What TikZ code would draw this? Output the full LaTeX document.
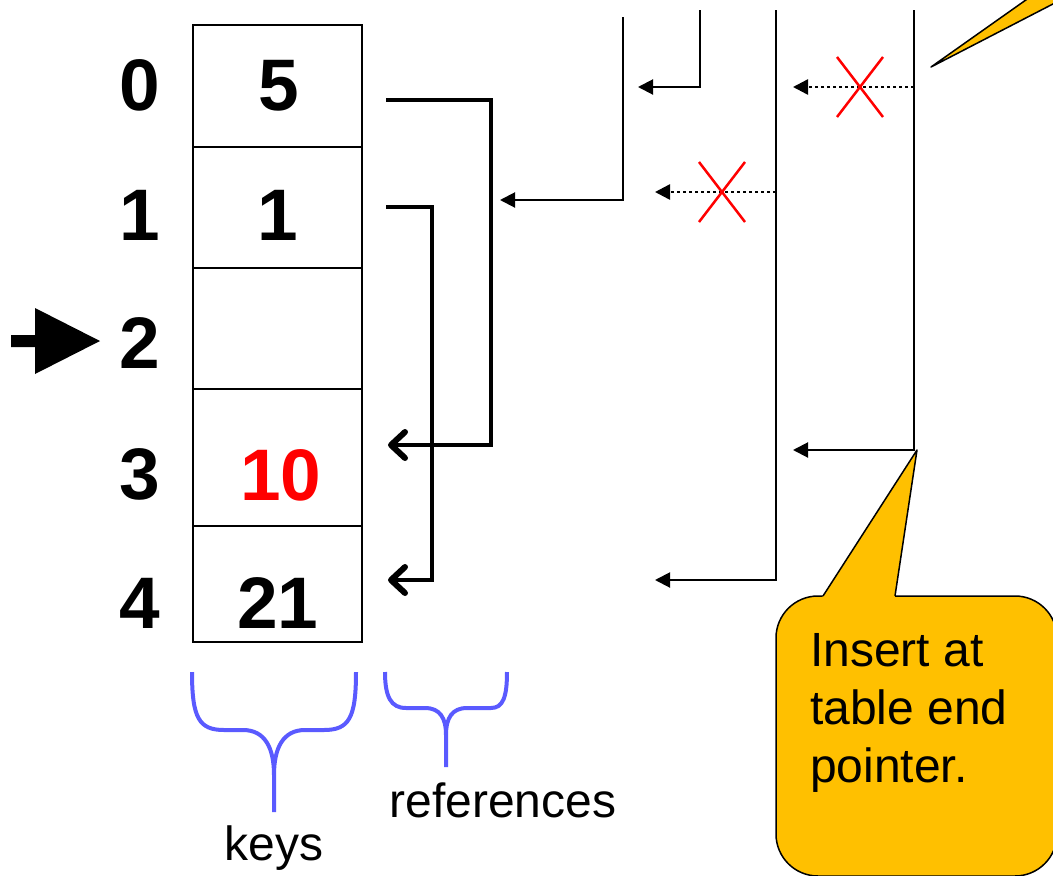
\documentclass[tikz,border=0pt]{standalone}
\usepackage{fontspec}
\setmainfont{Liberation Sans}
\usetikzlibrary{arrows.meta}
\definecolor{calloutfill}{RGB}{255,192,0}
\definecolor{bracecol}{RGB}{90,90,255}
\definecolor{keyred}{RGB}{255,0,0}

\begin{document}
\begin{tikzpicture}[x=1pt,y=-1pt,
  cell/.style={draw, line width=1.6pt, minimum width=169pt, inner sep=0pt,
               anchor=north west, outer sep=0pt},
  bignum/.style={font=\fontsize{73}{80}\selectfont\bfseries, inner sep=0pt, anchor=base},
  label/.style={font=\fontsize{48}{58}\selectfont, inner sep=0pt, anchor=base},
  refarrow/.style={line width=4.5pt, line join=miter,
                   -{Straight Barb[length=14pt,width=26pt,round,line width=6pt]}},
  ptrarrow/.style={line width=2pt, -{Triangle[length=15pt,width=15pt]}},
  oldptr/.style={line width=2.5pt, dash pattern=on 3pt off 3pt, -{Triangle[length=15pt,width=15pt]}},
  cross/.style={draw=keyred, line width=2.5pt},
  brace/.style={draw=bracecol, line width=4pt},
  callout/.style={fill=calloutfill, draw=black, line width=1.5pt, line join=round}]

\path[use as bounding box] (0,0) rectangle (1053,876);

% hash table cells
\node[cell, minimum height=122pt] (k0) at (193,25) {};
\node[cell, minimum height=121pt] (k1) at (193,147) {};
\node[cell, minimum height=121pt] (k2) at (193,268) {};
\node[cell, minimum height=137pt] (k3) at (193,389) {};
\node[cell, minimum height=116pt] (k4) at (193,526) {};

% slot indices
\node[bignum] (i0) at (140,110) {0};
\node[bignum] (i1) at (140,240) {1};
\node[bignum] (i2) at (140,368) {2};
\node[bignum] (i3) at (140,499) {3};
\node[bignum] (i4) at (140,628) {4};

% stored keys
\node[bignum] (v0) at (279,110) {5};
\node[bignum] (v1) at (278,240) {1};
\node[bignum, text=keyred] (v3) at (281,500) {10};
\node[bignum] (v4) at (278,628) {21};

% current slot marker
\fill (11,335) -- (35,335) -- (35,308) -- (100,341) -- (35,374) -- (35,347) -- (11,347) -- cycle;

% reference chains between slots
\coordinate (r0) at (386,100);
\coordinate (r1) at (386,207);
\coordinate (r3) at (388,445);
\coordinate (r4) at (388,580);
\draw[refarrow] (r0) -- (491,100) |- (r3);
\draw[refarrow] (r1) -- (432,207) |- (r4);

% table end pointer history
\coordinate (e1) at (623,17);   \coordinate (e1t) at (500,200);
\coordinate (e2) at (700,10);   \coordinate (e2t) at (638,87);
\coordinate (e3) at (776,10);   \coordinate (e3t) at (655,580);
\coordinate (e4) at (914,10);   \coordinate (e4t) at (793,450);
\draw[ptrarrow] (e1) |- (e1t);
\draw[ptrarrow] (e2) |- (e2t);
\draw[ptrarrow] (e3) |- (e3t);
\draw[ptrarrow] (e4) |- (e4t);

% discarded pointers
\coordinate (d1) at (776,192);  \coordinate (d1t) at (655,192);
\coordinate (d2) at (914,87);   \coordinate (d2t) at (793,87);
\draw[oldptr] (d1) -- (d1t);
\draw[oldptr] (d2) -- (d2t);
\draw[cross] (699,162) -- (745,222) (699,222) -- (745,162);
\draw[cross] (837,57) -- (883,117) (837,117) -- (883,57);

% braces and their labels
\draw[brace] (192,672) .. controls (192,718) and (199,730) .. (224,730) -- (243,730)
  .. controls (265,730) and (274,748) .. (274,775) -- (274,812)
  (274,775) .. controls (274,748) and (283,730) .. (305,730) -- (324,730)
  .. controls (349,730) and (356,718) .. (356,672);
\draw[brace] (385,672) .. controls (385,697) and (391,708) .. (406,708) -- (425,708)
  .. controls (440,708) and (446,718) .. (446,735) -- (446,767)
  (446,735) .. controls (446,718) and (452,708) .. (467,708) -- (491,708)
  .. controls (503,708) and (507,697) .. (507,672);
\node[label] (keys) at (274,860) {keys};
\node[label] (refs) at (503,817) {references};

% callouts
\begin{scope}
\clip (0,0) rectangle (1053,876);
\path[callout] (931,67) -- (1040,-10) -- (1080,-10) -- cycle;
\path[callout, rounded corners=42pt] (776,596) rectangle (1057,876);
\fill[calloutfill] (821.1,599) -- (917,451) -- (894.5,599) -- cycle;
\draw[line width=1.5pt, line join=round] (823,596) -- (917,450) -- (895,596);
\end{scope}
\node[label, anchor=base west, align=left] (note) at (810,782) {Insert at\\table end\\pointer.};

\end{tikzpicture}
\end{document}
